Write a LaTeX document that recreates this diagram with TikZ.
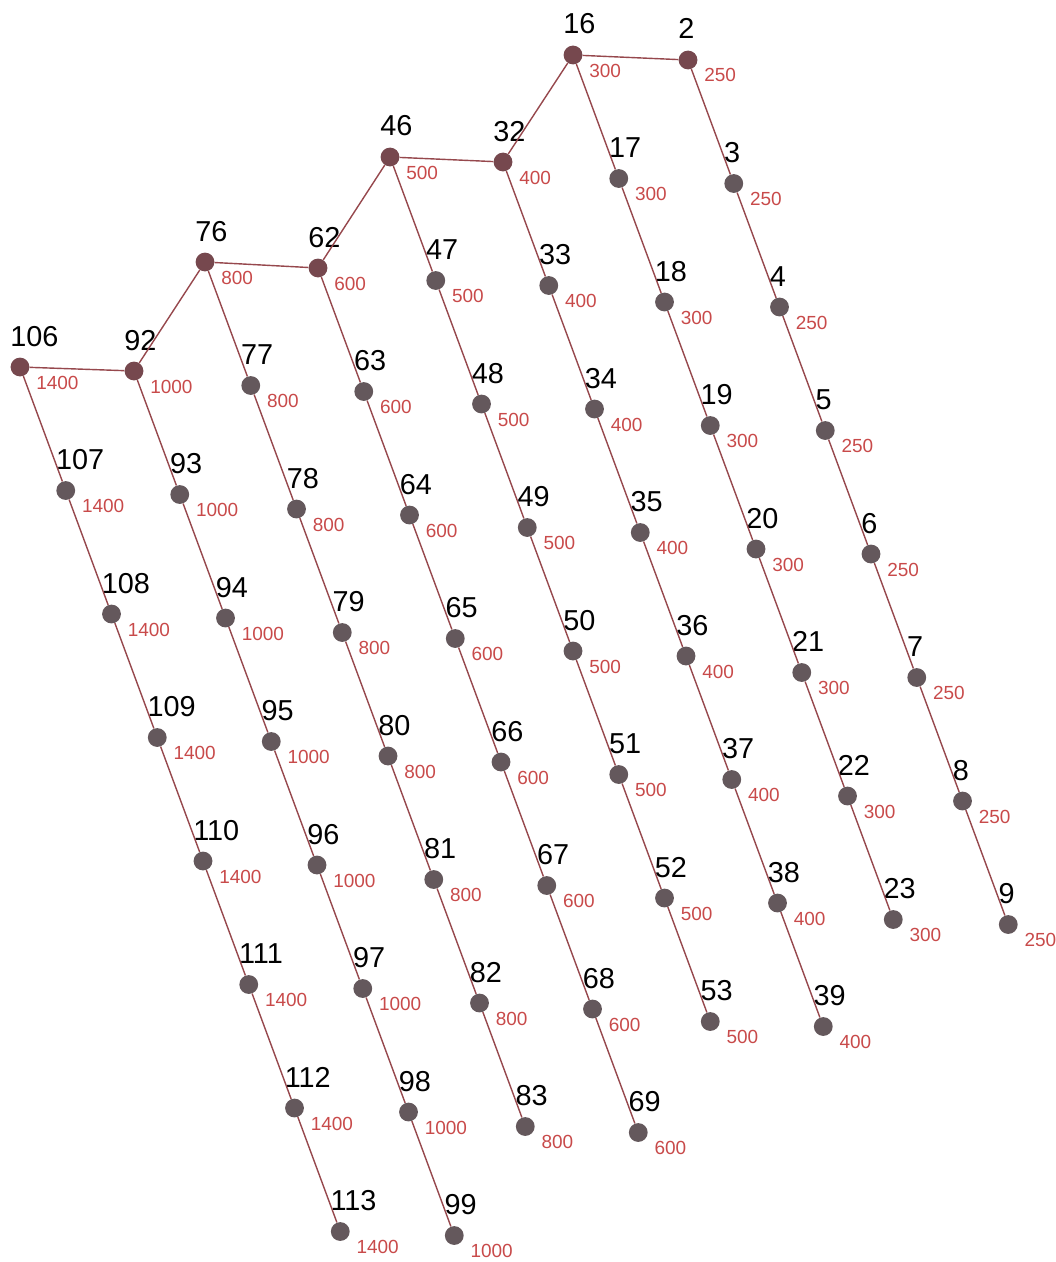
\documentclass[tikz,border=0pt]{standalone}
\usepackage{fontspec}
\setmainfont{Liberation Sans}
\usetikzlibrary{positioning}
\definecolor{dotgrey}{RGB}{100,88,92}
\definecolor{dothead}{RGB}{118,72,78}
\definecolor{wire}{RGB}{150,72,77}
\definecolor{loadred}{RGB}{200,74,74}
\tikzset{
  bus/.style={circle,fill=#1,inner sep=0pt,minimum size=0.47cm},
  bus/.default=dotgrey,
  busno/.style={anchor=base west,inner sep=0pt,font=\fontsize{20.5}{20.5}\selectfont},
  load/.style={anchor=base west,inner sep=0pt,text=loadred,font=\fontsize{13.5}{13.5}\selectfont},
  feeder/.style={draw=wire,line width=1pt},
}

\begin{document}
\begin{tikzpicture}[x=0.025cm,y=-0.025cm]
  \useasboundingbox (0,0) rectangle (1055,1262);
  % heads of the feeders, then 7 buses down each one
  \foreach \h/\f/\v/\x/\y in {2/3/250/688/60, 16/17/300/573/55, 32/33/400/503/162,
      46/47/500/390/157, 62/63/600/318/268, 76/77/800/205/262,
      92/93/1000/134/371, 106/107/1400/20/367}{
    \node[bus=dothead] (n\h) at (\x,\y) {};
    \node[busno] (t\h) at (\x-10,\y-21) {\h};
    \node[load] (v\h) at (\x+16,\y+22) {\v};
    \foreach \k in {1,...,7}{
      \pgfmathtruncatemacro\i{\f+\k-1}
      \pgfmathtruncatemacro\p{\k==1 ? \h : \i-1}
      \node[bus] (n\i) at (\x+45.75*\k,\y+123.5*\k) {};
      \node[busno] (t\i) at (\x+45.75*\k-10,\y+123.5*\k-21) {\i};
      \node[load] (v\i) at (\x+45.75*\k+16,\y+123.5*\k+22) {\v};
      \draw[feeder] (n\p) -- (n\i);
    }
  }
  \draw[feeder] (n106) -- (n92) -- (n76) -- (n62) -- (n46) -- (n32) -- (n16) -- (n2);
\end{tikzpicture}
\end{document}
